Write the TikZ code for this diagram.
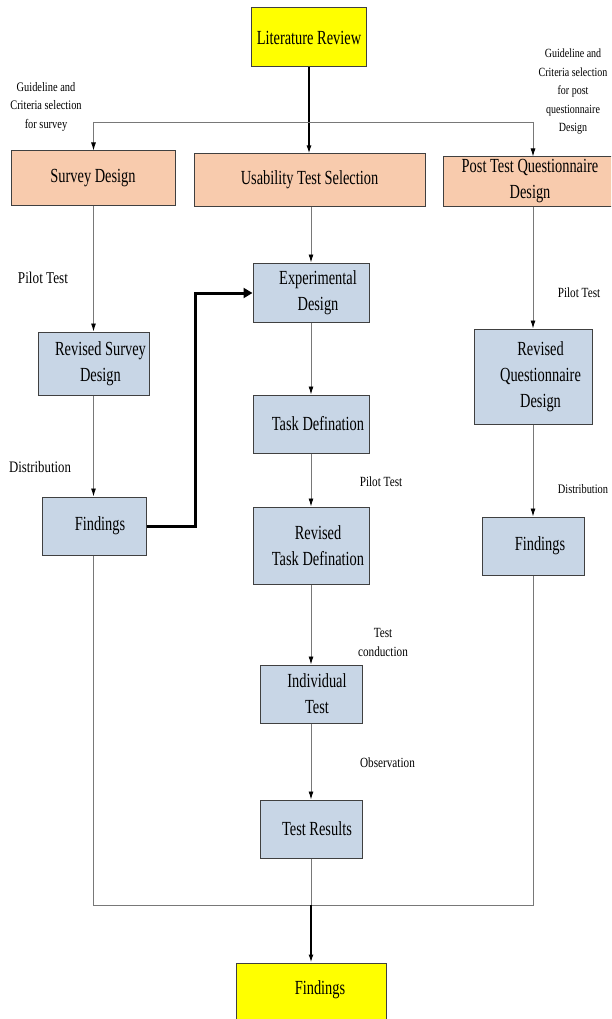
\documentclass[tikz,border=0pt]{standalone}
\usepackage{fontspec}
\setmainfont{Liberation Serif}
\newfontfamily\boxfont{Liberation Serif}[FakeStretch=0.72]
\newfontfamily\labfont{Liberation Serif}[FakeStretch=0.8]
\usetikzlibrary{arrows.meta}
\definecolor{ylw}{RGB}{255,255,0}
\definecolor{peach}{RGB}{248,203,173}
\definecolor{pblue}{RGB}{200,214,230}
\definecolor{bord}{RGB}{64,64,64}
\definecolor{ln}{RGB}{120,120,120}
\begin{document}
\begin{tikzpicture}[x=1pt,y=-1pt,
  base/.style={draw=bord, line width=1pt, inner sep=0pt, align=center,
    font=\boxfont\fontsize{20}{26}\selectfont},
  yellowbox/.style={base, fill=ylw},
  peachbox/.style={base, fill=peach},
  bluebox/.style={base, fill=pblue},
  btext/.style={inner sep=0pt, align=center, font=\boxfont\fontsize{20}{26}\selectfont},
  lab/.style={align=center, inner sep=0pt, font=\labfont\fontsize{14}{19.5}\selectfont},
  thin/.style={draw=ln, line width=0.9pt, -{Latex[length=8pt,width=5pt,color=black]}},
  thinline/.style={draw=ln, line width=0.9pt},
  blk/.style={draw=black, line width=1.4pt, -{Latex[length=8pt,width=5pt]}},
  thick/.style={draw=black, line width=3pt, -{Triangle[length=9pt,width=10pt]}}
]
\useasboundingbox (0,0) rectangle (611,1019);
\clip (0,0) rectangle (611,1019);

% boxes
\node[yellowbox, minimum width=115pt, minimum height=59pt] (lit) at (309,37.5) {Literature Review};
\node[peachbox, minimum width=164pt, minimum height=54pt] (sur) at (93,178) {Survey Design};
\node[peachbox, minimum width=231pt, minimum height=52pt] (use) at (309.5,180) {Usability Test Selection};
\node[peachbox, minimum width=174pt, minimum height=49pt] (post) at (530,181.5) {Post Test Questionnaire\\Design};
\node[bluebox, minimum width=116pt, minimum height=59pt] (exp) at (311,292.5) {};
\node[bluebox, minimum width=111pt, minimum height=63pt] (rsur) at (93.5,363.5) {};
\node[bluebox, minimum width=116pt, minimum height=58pt] (task) at (311,424) {};
\node[bluebox, minimum width=118pt, minimum height=95pt] (rq) at (533.5,376.5) {};
\node[bluebox, minimum width=104pt, minimum height=58pt] (findl) at (94,526) {};
\node[bluebox, minimum width=116pt, minimum height=77pt] (rtask) at (311,545.5) {};
\node[bluebox, minimum width=102pt, minimum height=58pt] (findr) at (533,546) {};
\node[bluebox, minimum width=102pt, minimum height=58pt] (ind) at (311,694) {};
\node[bluebox, minimum width=102pt, minimum height=58pt] (res) at (311,829) {};
\node[yellowbox, minimum width=150pt, minimum height=80pt] (fin) at (311,1003) {};

% box texts (printed slightly right of centre, as in the reference)
\node[btext] (expT) at ([xshift=7pt]exp.center) {Experimental\\Design};
\node[btext] (rsurT) at ([xshift=7pt]rsur.center) {Revised Survey\\Design};
\node[btext] (taskT) at ([xshift=7pt]task.center) {Task Defination};
\node[btext] (rqT) at ([xshift=7pt]rq.center) {Revised\\Questionnaire\\Design};
\node[btext] (findlT) at ([xshift=6pt]findl.center) {Findings};
\node[btext] (rtaskT) at ([xshift=7pt]rtask.center) {Revised\\Task Defination};
\node[btext] (findrT) at ([xshift=7pt]findr.center) {Findings};
\node[btext] (indT) at ([xshift=6pt]ind.center) {Individual\\Test};
\node[btext] (resT) at ([xshift=6pt]res.center) {Test Results};
\node[btext] (finT) at (320,990) {Findings};

% junction coordinates
\coordinate (jl) at (93.5,122);
\coordinate (jr) at (533,122);
\coordinate (bl) at (93.5,905);
\coordinate (bm) at (311,905);
\coordinate (br) at (533,905);
\coordinate (tk) at (195,526);
\coordinate (tk2) at (195,293);

% connectors
\draw[blk] (lit.south) -- (lit.south |- use.north);
\draw[thinline] (jl) -- (jr);
\draw[thin] (jl) -- (jl |- sur.north);
\draw[thin] (jr) -- (jr |- post.north);
\draw[thin] (sur.south -| jl) -- (rsur.north -| jl);
\draw[thin] (rsur.south -| jl) -- (findl.north -| jl);
\draw[thin] (use.south -| exp.north) -- (exp);
\draw[thin] (exp) -- (task);
\draw[thin] (task) -- (rtask);
\draw[thin] (rtask) -- (ind);
\draw[thin] (ind) -- (res);
\draw[thin] (post.south -| jr) -- (rq.north -| jr);
\draw[thin] (rq.south -| jr) -- (findr.north -| jr);
\draw[thinline] (findl.south -| bl) -- (bl) -- (br) -- (br |- findr.south);
\draw[thinline] (res) -- (bm);
\draw[blk] (bm) -- (fin.north -| bm);
\draw[thick] (findl.east) -- (tk) -- (tk2) -- (tk2 -| exp.west);

% labels
\node[lab, font=\labfont\fontsize{13}{18.5}\selectfont] (l1) at (46,106.5) {Guideline and\\Criteria selection\\for survey};
\node[lab, font=\labfont\fontsize{12.5}{18.5}\selectfont] (l2) at (573,92) {Guideline and\\Criteria selection\\for post\\questionnaire\\Design};
\node[lab, font=\labfont\fontsize{16.5}{19.5}\selectfont] (l3) at (43,278) {Pilot Test};
\node[lab, font=\labfont\fontsize{16}{19.5}\selectfont] (l4) at (40,467) {Distribution};
\node[lab] (l5) at (579,293) {Pilot Test};
\node[lab, font=\labfont\fontsize{13}{19.5}\selectfont] (l6) at (583,489) {Distribution};
\node[lab] (l7) at (381,482) {Pilot Test};
\node[lab] (l8) at (383,642.5) {Test\\conduction};
\node[lab] (l9) at (387.5,763) {Observation};
\end{tikzpicture}
\end{document}
